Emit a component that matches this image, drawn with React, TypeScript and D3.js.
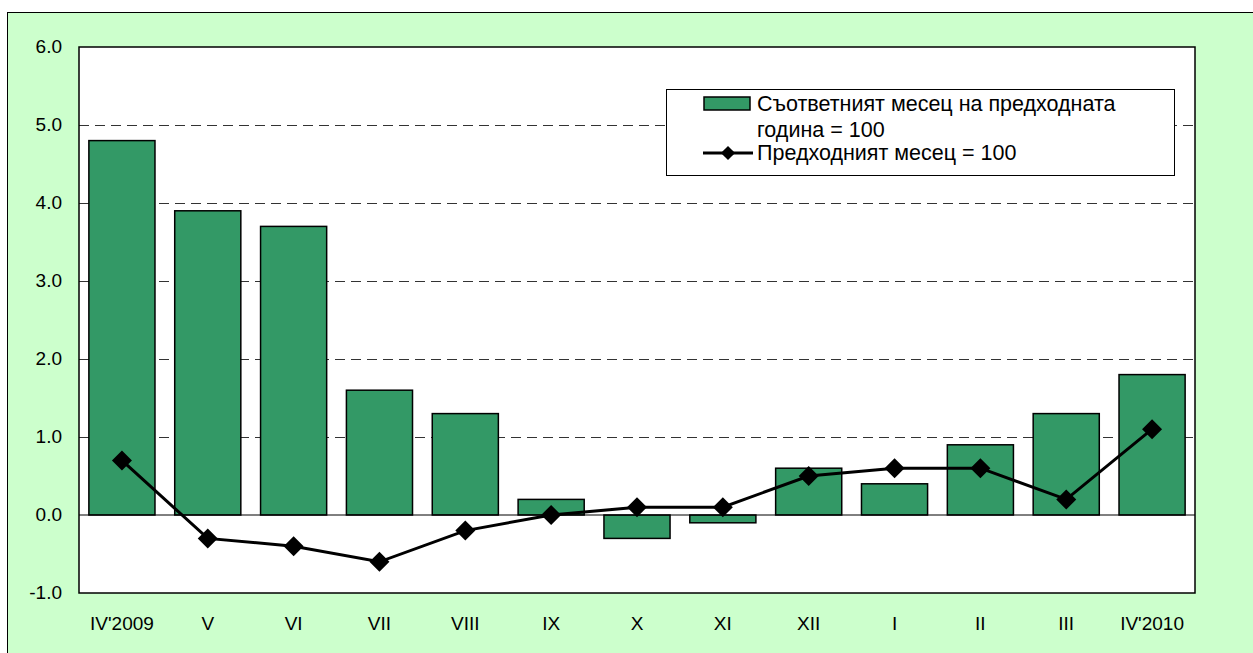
import React, { useEffect, useRef } from 'react';
import * as d3 from 'd3';

const categories = ["IV'2009", 'V', 'VI', 'VII', 'VIII', 'IX', 'X', 'XI', 'XII', 'I', 'II', 'III', "IV'2010"];
const yearOnYear = [4.8, 3.9, 3.7, 1.6, 1.3, 0.2, -0.3, -0.1, 0.6, 0.4, 0.9, 1.3, 1.8];
const monthOnMonth = [0.7, -0.3, -0.4, -0.6, -0.2, 0.0, 0.1, 0.1, 0.5, 0.6, 0.6, 0.2, 1.1];
const yTicks = [-1, 0, 1, 2, 3, 4, 5, 6];
const legendBar = ['Съответният месец на предходната', 'година = 100'];
const legendLine = 'Предходният месец = 100';

const App = () => {
  const svgRef = useRef<SVGSVGElement>(null);

  useEffect(() => {
    const svg = d3.select(svgRef.current);
    svg.selectAll('*').remove();

    const W = 1253;
    const H = 653;
    const plot = { left: 79, top: 47, right: 1195, bottom: 593 };
    const font = 'Liberation Sans, Arial, sans-serif';

    // outer frame
    svg.append('rect')
      .attr('x', 7.5).attr('y', 12.5)
      .attr('width', W + 20).attr('height', H + 20)
      .attr('fill', '#CCFFCC')
      .attr('stroke', '#000').attr('stroke-width', 1);

    const x = d3.scaleBand()
      .domain(categories)
      .range([plot.left, plot.right])
      .paddingInner(0.23)
      .paddingOuter(0.115);

    const y = d3.scaleLinear()
      .domain([-1, 6])
      .range([plot.bottom, plot.top]);

    // plot background
    svg.append('rect')
      .attr('x', plot.left).attr('y', plot.top)
      .attr('width', plot.right - plot.left).attr('height', plot.bottom - plot.top)
      .attr('fill', '#fff');

    // dashed gridlines
    svg.append('g')
      .selectAll('line')
      .data(yTicks.filter((t) => t > 0 && t < 6))
      .join('line')
      .attr('x1', plot.left).attr('x2', plot.right)
      .attr('y1', (d) => Math.round(y(d)) + 0.5)
      .attr('y2', (d) => Math.round(y(d)) + 0.5)
      .attr('stroke', '#333')
      .attr('stroke-width', 1)
      .attr('stroke-dasharray', '10,6');

    // bars
    svg.append('g')
      .selectAll('rect')
      .data(yearOnYear)
      .join('rect')
      .attr('x', (d, i) => x(categories[i])!)
      .attr('width', x.bandwidth())
      .attr('y', (d) => y(Math.max(0, d)))
      .attr('height', (d) => Math.abs(y(d) - y(0)))
      .attr('fill', '#339966')
      .attr('stroke', '#000')
      .attr('stroke-width', 1.5);

    // zero line
    svg.append('line')
      .attr('x1', plot.left).attr('x2', plot.right)
      .attr('y1', y(0)).attr('y2', y(0))
      .attr('stroke', '#000').attr('stroke-width', 1);

    // plot border
    svg.append('rect')
      .attr('x', plot.left).attr('y', plot.top)
      .attr('width', plot.right - plot.left).attr('height', plot.bottom - plot.top)
      .attr('fill', 'none')
      .attr('stroke', '#000').attr('stroke-width', 1.5);

    // line series
    const cx = (i: number) => x(categories[i])! + x.bandwidth() / 2;
    const line = d3.line<number>()
      .x((d, i) => cx(i))
      .y((d) => y(d));

    svg.append('path')
      .datum(monthOnMonth)
      .attr('fill', 'none')
      .attr('stroke', '#000')
      .attr('stroke-width', 3)
      .attr('d', line);

    svg.append('g')
      .selectAll('path')
      .data(monthOnMonth)
      .join('path')
      .attr('transform', (d, i) => `translate(${cx(i)},${y(d)}) rotate(45)`)
      .attr('d', d3.symbol().type(d3.symbolSquare).size(200)())
      .attr('fill', '#000');

    // y axis labels
    svg.append('g')
      .selectAll('text')
      .data(yTicks)
      .join('text')
      .attr('x', 62)
      .attr('y', (d) => y(d) + 6)
      .attr('text-anchor', 'end')
      .attr('font-family', font)
      .attr('font-size', 19)
      .text((d) => d.toFixed(1));

    // x axis labels
    svg.append('g')
      .selectAll('text')
      .data(categories)
      .join('text')
      .attr('x', (d) => x(d)! + x.bandwidth() / 2)
      .attr('y', 630)
      .attr('text-anchor', 'middle')
      .attr('font-family', font)
      .attr('font-size', 19)
      .text((d) => d);

    // legend
    const lg = svg.append('g');
    lg.append('rect')
      .attr('x', 666.5).attr('y', 89.5)
      .attr('width', 508).attr('height', 86)
      .attr('fill', '#fff')
      .attr('stroke', '#000').attr('stroke-width', 1);
    lg.append('rect')
      .attr('x', 704).attr('y', 97)
      .attr('width', 46).attr('height', 13)
      .attr('fill', '#339966')
      .attr('stroke', '#000').attr('stroke-width', 1.5);
    lg.append('text')
      .attr('font-family', font)
      .attr('font-size', 21.5)
      .selectAll('tspan')
      .data(legendBar)
      .join('tspan')
      .attr('x', 757)
      .attr('y', (d, i) => 111 + i * 26)
      .text((d) => d);
    lg.append('line')
      .attr('x1', 703).attr('x2', 753)
      .attr('y1', 153).attr('y2', 153)
      .attr('stroke', '#000').attr('stroke-width', 3);
    lg.append('path')
      .attr('transform', 'translate(728,153) rotate(45)')
      .attr('d', d3.symbol().type(d3.symbolSquare).size(100)())
      .attr('fill', '#000');
    lg.append('text')
      .attr('x', 757).attr('y', 160)
      .attr('font-family', font)
      .attr('font-size', 21.5)
      .text(legendLine);
  }, []);

  return (
    <svg ref={svgRef} width={1253} height={653} style={{ position: 'absolute', left: 0, top: 0 }} />
  );
};

export default App;
